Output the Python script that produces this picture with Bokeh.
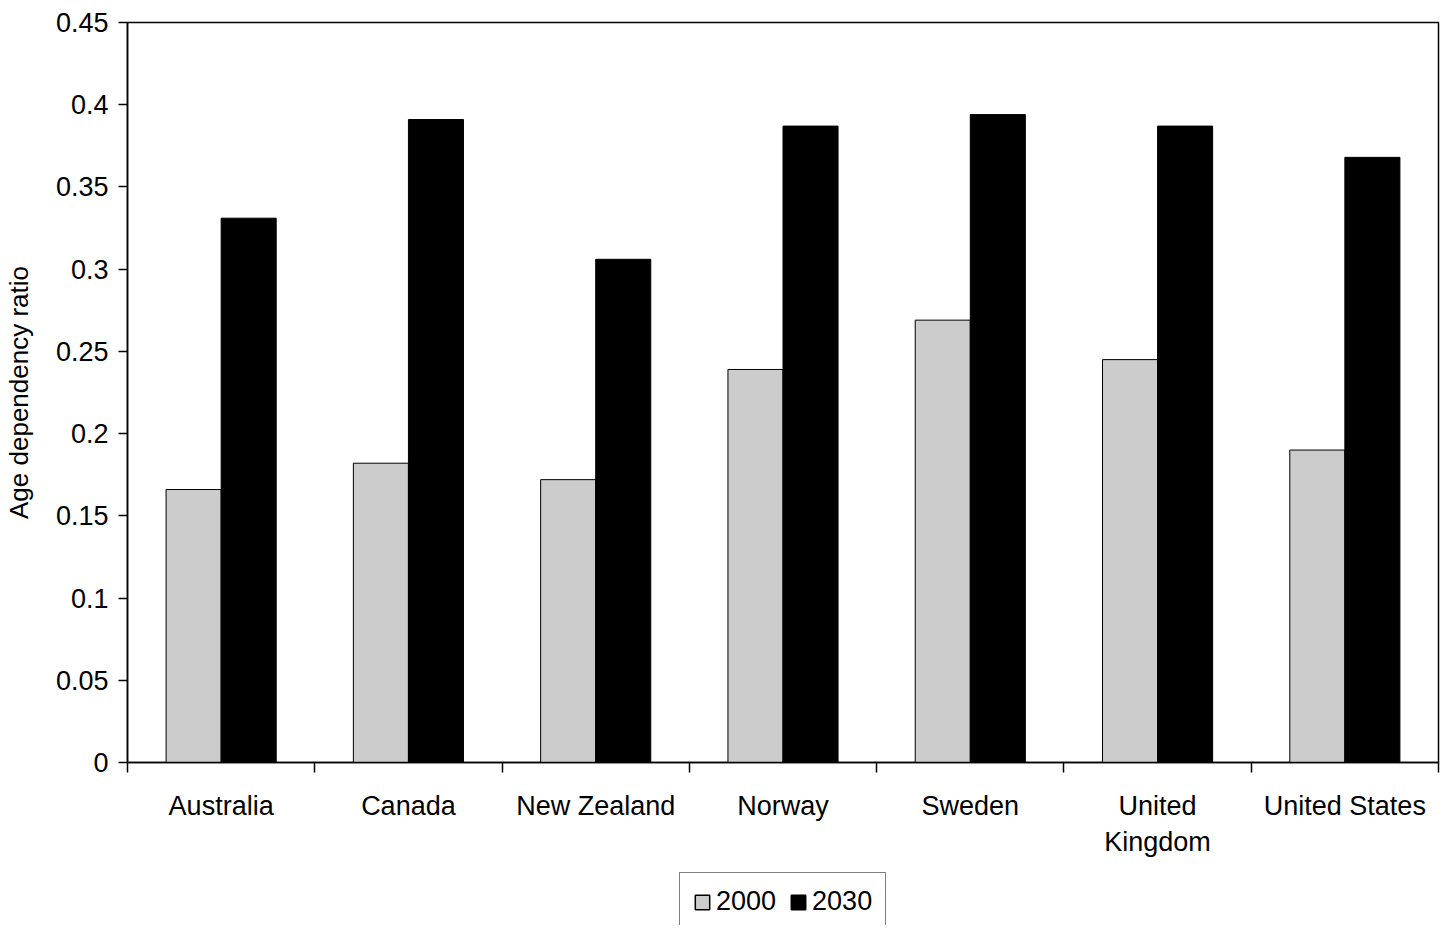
from bokeh.plotting import figure
from bokeh.layouts import column
from bokeh.models import (ColumnDataSource, FixedTicker, LinearAxis, Legend, LegendItem, Range1d)
from bokeh.embed import file_html
from bokeh.resources import INLINE

countries = ["Australia", "Canada", "New Zealand", "Norway", "Sweden", "United\nKingdom", "United States"]
ratio_2000 = [0.166, 0.182, 0.172, 0.239, 0.269, 0.245, 0.190]
ratio_2030 = [0.331, 0.391, 0.306, 0.387, 0.394, 0.387, 0.368]
y_ticks = [0, 0.05, 0.1, 0.15, 0.2, 0.25, 0.3, 0.35, 0.4, 0.45]
y_tick_labels = ["0", "0.05", "0.1", "0.15", "0.2", "0.25", "0.3", "0.35", "0.4", "0.45"]
series_names = ["2000", "2030"]
series_colors = ["#cccccc", "black"]

FONT = "Liberation Sans"
BAR_W = 0.294

centers = [i + 0.5 for i in range(len(countries))]
src = ColumnDataSource(dict(
    x2000=[c - BAR_W / 2 for c in centers],
    x2030=[c + BAR_W / 2 for c in centers],
    v2000=ratio_2000,
    v2030=ratio_2030,
))

p = figure(width=1440, height=870, output_backend="svg", toolbar_location=None,
           x_range=Range1d(0, len(countries)), y_range=Range1d(0, 0.45),
           x_axis_location=None, y_axis_location=None,
           min_border_left=127, min_border_top=22, min_border_right=2, min_border_bottom=108)
p.grid.visible = False
p.outline_line_color = "black"
p.outline_line_width = 1.5
p.background_fill_color = "white"
p.border_fill_color = "white"

p.vbar(x="x2000", top="v2000", width=BAR_W, bottom=0, source=src,
       fill_color=series_colors[0], line_color="black", line_width=1)
p.vbar(x="x2030", top="v2030", width=BAR_W, bottom=0, source=src,
       fill_color=series_colors[1], line_color="black", line_width=1)

# Y axis
yax = LinearAxis(ticker=FixedTicker(ticks=y_ticks, minor_ticks=[]),
                 major_label_overrides={t: l for t, l in zip(y_ticks, y_tick_labels)})
yax.axis_label = "Age dependency ratio"
yax.axis_label_text_font = FONT
yax.axis_label_text_font_size = "26px"
yax.axis_label_text_font_style = "normal"
yax.axis_label_text_color = "black"
yax.axis_label_standoff = 19
yax.major_label_text_font = FONT
yax.major_label_text_font_size = "27px"
yax.major_label_text_color = "black"
yax.major_label_standoff = 10
yax.major_tick_out = 9
yax.major_tick_in = 0
yax.axis_line_width = 1.5
yax.major_tick_line_width = 1.5
p.add_layout(yax, "left")

# X axis: labels at centers, tick marks at boundaries (minor ticks)
xax = LinearAxis(ticker=FixedTicker(ticks=centers, minor_ticks=list(range(len(countries) + 1))),
                 major_label_overrides={c: n for c, n in zip(centers, countries)})
xax.major_tick_line_color = None
xax.major_tick_out = 0
xax.minor_tick_out = 10
xax.minor_tick_in = 0
xax.minor_tick_line_width = 1.5
xax.axis_line_width = 1.5
xax.major_label_text_font = FONT
xax.major_label_text_font_size = "27px"
xax.major_label_text_color = "black"
xax.major_label_standoff = 18
xax.major_label_text_line_height = 1.2
p.add_layout(xax, "below")

# Legend strip below the chart (hidden proxy renderers only feed the legend)
lg = figure(width=1440, height=55, output_backend="svg", toolbar_location=None,
            x_range=Range1d(0, 1), y_range=Range1d(0, 1),
            x_axis_location=None, y_axis_location=None,
            min_border_left=0, min_border_right=0, min_border_top=0, min_border_bottom=0)
lg.grid.visible = False
lg.outline_line_color = None
lg.background_fill_color = "white"
lg.border_fill_color = "white"
items = []
for name, col in zip(series_names, series_colors):
    r = lg.vbar(x=[0.5], top=[0.5], width=0.1, fill_color=col, line_color="black", line_width=1.5)
    r.visible = False
    items.append(LegendItem(label=name, renderers=[r]))
legend = Legend(items=items, orientation="horizontal", location=(552, -6))
legend.label_text_font = FONT
legend.label_text_font_size = "27px"
legend.label_text_color = "black"
legend.glyph_width = 18
legend.glyph_height = 18
legend.label_standoff = 5
legend.spacing = 13
legend.padding = 13
legend.margin = 0
legend.border_line_color = "black"
legend.border_line_width = 1.5
legend.background_fill_alpha = 1
legend.inactive_fill_alpha = 0
lg.add_layout(legend, "center")

open("out.html", "w").write(file_html(column(p, lg, spacing=0), INLINE))
